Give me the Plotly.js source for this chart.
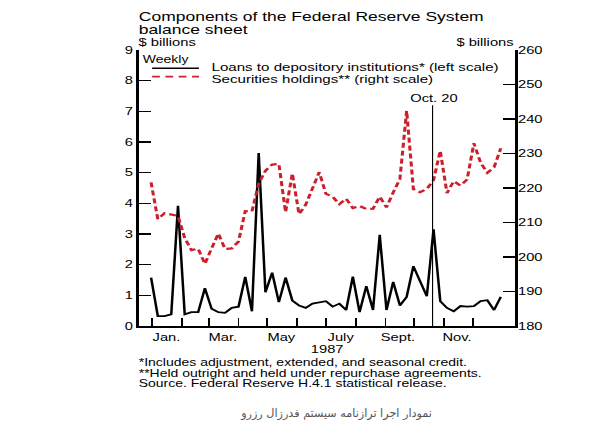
<!DOCTYPE html>
<html>
<head>
<meta charset="utf-8">
<script src="https://cdn.plot.ly/plotly-3.0.1.min.js"></script>
<style>
  html, body { margin: 0; padding: 0; background: #fff; overflow: hidden; width: 614px; height: 439px; position: relative; }
  #chart { width: 438.6px; height: 439px; transform: scaleX(1.4); transform-origin: 0 0; }
  #caption { position: absolute; left: 226.5px; width: 220px; top: 405.5px; text-align: center; direction: rtl;
    font-family: 'DejaVu Sans', sans-serif; font-size: 11.2px; line-height: 16px; color: #555; }
</style>
</head>
<body>
<div id="chart"></div>
<div id="caption"></div>
<script>
// ---- data (weekly, 1987) ----
const weeks = ['1986-12-31','1987-01-07','1987-01-14','1987-01-21','1987-01-28','1987-02-04','1987-02-11','1987-02-18','1987-02-25',
  '1987-03-04','1987-03-11','1987-03-18','1987-03-25','1987-04-01','1987-04-08','1987-04-15','1987-04-22','1987-04-29',
  '1987-05-06','1987-05-13','1987-05-20','1987-05-27','1987-06-03','1987-06-10','1987-06-17','1987-06-24',
  '1987-07-01','1987-07-08','1987-07-15','1987-07-22','1987-07-29','1987-08-05','1987-08-12','1987-08-19','1987-08-26',
  '1987-09-02','1987-09-09','1987-09-16','1987-09-23','1987-09-30','1987-10-07','1987-10-14','1987-10-21','1987-10-28',
  '1987-11-04','1987-11-11','1987-11-18','1987-11-25','1987-12-02','1987-12-09','1987-12-16','1987-12-23','1987-12-30'];
const loans = [1.58, 0.32, 0.32, 0.38, 3.92, 0.38, 0.45, 0.45, 1.23, 0.56, 0.45, 0.43, 0.59, 0.63, 1.60, 0.48, 5.64, 1.10,
  1.74, 0.78, 1.58, 0.83, 0.67, 0.59, 0.73, 0.78, 0.81, 0.63, 0.73, 0.52, 1.61, 0.45, 1.30, 0.52, 2.97, 0.52, 1.44, 0.67,
  0.95, 1.95, 1.45, 0.97, 3.15, 0.81, 0.59, 0.48, 0.65, 0.63, 0.65, 0.81, 0.84, 0.52, 0.95];
const securities = [221.6, 211.0, 212.7, 212.3, 211.9, 205.5, 202.0, 202.4, 198.0, 202.5, 206.8, 202.3, 202.5, 204.5, 213.3,
  213.2, 221.3, 225.0, 226.8, 227.0, 213.0, 224.2, 212.4, 215.2, 219.7, 224.6, 218.3, 217.5, 215.3, 216.9, 214.2, 214.8,
  213.9, 214.0, 217.5, 214.4, 218.7, 222.6, 242.4, 219.7, 218.8, 219.7, 222.3, 230.8, 218.5, 222.0, 220.7, 222.5, 233.0,
  227.3, 224.4, 226.0, 231.5];
const monthTicks = ['1987-01-01','1987-02-01','1987-03-01','1987-04-01','1987-05-01','1987-06-01','1987-07-01',
  '1987-08-01','1987-09-01','1987-10-01','1987-11-01','1987-12-01'];
const monthLabels = ['Jan.','Mar.','May','July','Sept.','Nov.'];
const monthLabelDates = ['1987-01-16','1987-03-16','1987-05-16','1987-07-16','1987-09-15','1987-11-15'];
const leftTicks = [0,1,2,3,4,5,6,7,8,9];
const rightTicks = [180,190,200,210,220,230,240,250,260];
const eventDate = '1987-10-20';
const eventLabel = 'Oct. 20';
const titleLines = ['Components of the Federal Reserve System', 'balance sheet'];
const unitLabel = '$ billions';
const legendHeader = 'Weekly';
const seriesNames = ['Loans to depository institutions* (left scale)', 'Securities holdings** (right scale)'];
const yearLabel = '1987';
const footnotes = ['*Includes adjustment, extended, and seasonal credit.',
  '**Held outright and held under repurchase agreements.',
  'Source. Federal Reserve H.4.1 statistical release.'];
const caption = 'نمودار اجرا ترازنامه سیستم فدرزال رزرو';

// ---- layout geometry ----
const S = 1.4;
const DIV_W = 438.6, DIV_H = 439;
const L = 138.5 / S, RX = 514 / S, T = 50, B = 326.5;
const PW = RX - L, PH = B - T;
const px = xr => (xr / S - L) / PW;
const py = yr => (B - yr) / PH;
const FONT = 'Liberation Sans, Arial, Helvetica, sans-serif';
const RED = '#cc1f2b';

const ann = (text, xr, yr, xanchor, size, extra) => Object.assign({
  text: text, xref: 'paper', yref: 'paper', x: px(xr), y: py(yr), xanchor: xanchor, yanchor: 'middle',
  showarrow: false, borderpad: 0, font: {family: FONT, size: size, color: '#000'}
}, extra || {});

const annotations = [
  ann(titleLines[0], 137, 17, 'left', 12.5),
  ann(titleLines[1], 137, 30, 'left', 12.5),
  ann(unitLabel, 137, 41.5, 'left', 10.5),
  ann(unitLabel, 514, 41.5, 'right', 10.5),
  ann(legendHeader, 141.5, 59.5, 'left', 10),
  ann(seriesNames[0], 209.5, 66.9, 'left', 10.8),
  ann(seriesNames[1], 209.5, 78.8, 'left', 10.8),
  ann(eventLabel, 432.5, 98.5, 'center', 10.5),
  ann(yearLabel, 327, 350, 'center', 10.5),
  ann(footnotes[0], 137, 362.8, 'left', 10),
  ann(footnotes[1], 137, 373.6, 'left', 10),
  ann(footnotes[2], 137, 384.4, 'left', 10)
];
monthLabels.forEach((m, i) => {
  annotations.push({text: m, xref: 'x', yref: 'paper', x: monthLabelDates[i], y: py(337.5), xanchor: 'center', yanchor: 'middle',
    showarrow: false, font: {family: FONT, size: 10.5, color: '#000'}});
});

const shapes = [
  {type: 'line', xref: 'x', yref: 'y', x0: eventDate, x1: eventDate, y0: 0, y1: 7.2, line: {color: '#000', width: 0.8}},
  {type: 'line', xref: 'paper', yref: 'paper', x0: px(152), x1: px(198.7), y0: py(68.3), y1: py(68.3), line: {color: '#000', width: 1.6}},
  {type: 'line', xref: 'paper', yref: 'paper', x0: px(152), x1: px(198.7), y0: py(76.7), y1: py(76.7), line: {color: RED, width: 1.6, dash: '5.5px,4px'}}
];

const traces = [
  {x: weeks, y: securities, yaxis: 'y2', type: 'scatter', mode: 'lines', name: seriesNames[1],
   line: {color: RED, width: 2.2, dash: '5px,3px'}},
  {x: weeks, y: loans, yaxis: 'y', type: 'scatter', mode: 'lines', name: seriesNames[0],
   line: {color: '#000', width: 1.8}}
];

const layout = {
  width: DIV_W, height: DIV_H,
  margin: {l: L, r: DIV_W - RX, t: T, b: DIV_H - B, pad: 0},
  paper_bgcolor: '#fff', plot_bgcolor: '#fff',
  showlegend: false,
  font: {family: FONT, size: 10.5, color: '#000'},
  xaxis: {type: 'date', range: ['1986-12-18', '1988-01-14'], tickmode: 'array', tickvals: monthTicks,
    ticks: 'inside', ticklen: 8, tickwidth: 1.2, tickcolor: '#000', showticklabels: false,
    showline: true, linecolor: '#000', linewidth: 2, showgrid: false, zeroline: false, fixedrange: true},
  yaxis: {range: [0, 9], tickmode: 'array', tickvals: leftTicks, ticks: 'inside', ticklen: 8.6, tickwidth: 1.3,
    tickcolor: '#000', showline: true, linecolor: '#000', linewidth: 1.9, showgrid: false, zeroline: false,
    tickfont: {family: FONT, size: 10.5, color: '#000'}, fixedrange: true},
  yaxis2: {range: [180, 260], overlaying: 'y', side: 'right', tickmode: 'array', tickvals: rightTicks, ticks: 'inside',
    ticklen: 8.6, tickwidth: 1.3, tickcolor: '#000', showline: true, linecolor: '#000', linewidth: 1.9, showgrid: false,
    zeroline: false, ticklabelstandoff: -2, tickfont: {family: FONT, size: 10.5, color: '#000'}, fixedrange: true},
  annotations: annotations,
  shapes: shapes
};

document.getElementById('caption').textContent = caption;
Plotly.newPlot('chart', traces, layout, {staticPlot: true, displayModeBar: false});
</script>
</body>
</html>
